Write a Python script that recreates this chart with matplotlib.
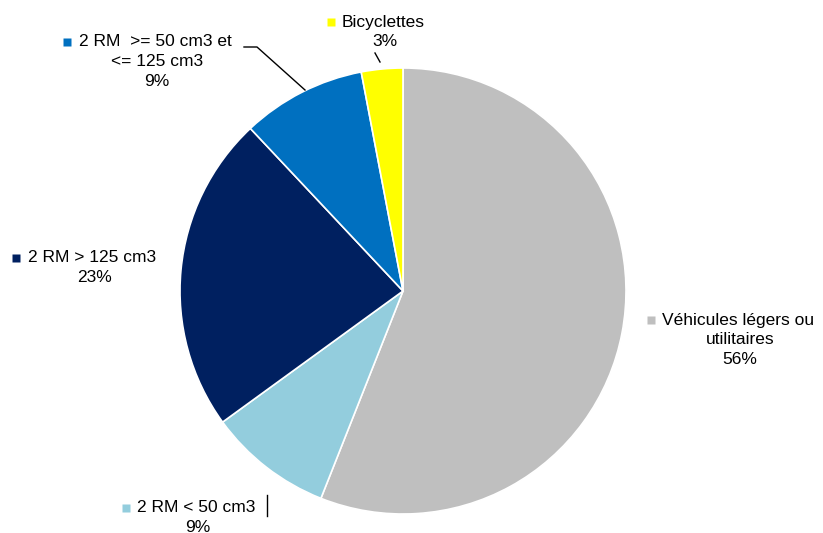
import matplotlib.pyplot as plt

plt.rcParams['font.family'] = ['Liberation Sans', 'DejaVu Sans']

labels = ["Véhicules légers ou\nutilitaires", "2 RM < 50 cm3", "2 RM > 125 cm3",
          "2 RM  >= 50 cm3 et\n<= 125 cm3", "Bicyclettes"]
shares = [56, 9, 23, 9, 3]
colors = ["#BFBFBF", "#93CDDD", "#002060", "#0070C0", "#FFFF00"]

# label layout in pixels: (square x, first line y, first line left x, centre x of other lines)
label_pos = [(651, 320, 662, 740),
             (126, 508, 137, 198),
             (16, 258, 28, 95),
             (67, 42, 79, 157),
             (331, 22, 342, 385)]

fig = plt.figure(figsize=(8.23, 5.33), dpi=100)
ax = fig.add_axes([0, 0, 1, 1])

# y axis inverted later, so counterclock=True draws clockwise on screen
ax.pie(shares, colors=colors, startangle=-90, counterclock=True,
       center=(403, 291), radius=223, frame=True,
       wedgeprops=dict(edgecolor='white', linewidth=1.2))
ax.set_xlim(0, 823)
ax.set_ylim(533, 0)
ax.set_aspect('equal')
ax.axis('off')

lh = 20
for lab, val, col, (sx, sy, lx, cx) in zip(labels, shares, colors, label_pos):
    lines = lab.split("\n") + [f"{val}%"]
    ax.plot(sx, sy, marker='s', ms=6, color=col, mec='none')
    ax.text(lx, sy, lines[0], ha='left', va='center', fontsize=12.5)
    for i, ln in enumerate(lines[1:], start=1):
        ax.text(cx, sy + i * lh, ln, ha='center', va='center', fontsize=12.5)

# leader lines
ax.plot([244, 257, 305], [47, 47, 90], color='black', lw=1)
ax.plot([375, 380], [53, 62], color='black', lw=1)
ax.plot([267, 267], [495, 516], color='black', lw=1)

fig.savefig("out.png", dpi=100)
